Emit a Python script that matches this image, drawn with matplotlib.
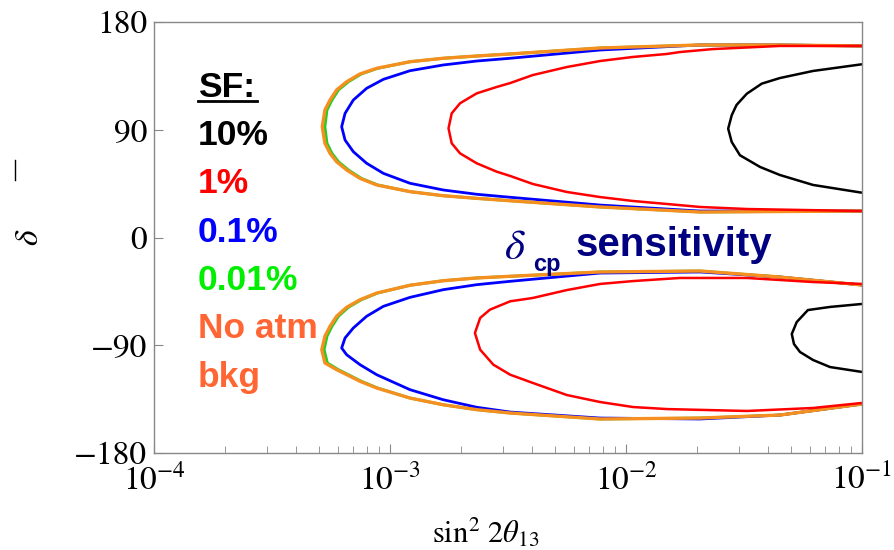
import numpy as np
import matplotlib
matplotlib.use('Agg')
import matplotlib.pyplot as plt
from matplotlib.lines import Line2D

# contours of delta_cp sensitivity, upper (delta>0) and lower (delta<0) islands
# x = sin^2(2 theta13), y = delta in degrees

# SF = 10% (black)
sf10_up_x = [0.1, 0.062, 0.0449, 0.0376, 0.0325, 0.0294, 0.02805, 0.0271, 0.02805, 0.0304,
             0.037, 0.0449, 0.062, 0.1]
sf10_up_y = [144.7, 139.1, 133.2, 128.5, 120.1, 110.7, 102.1, 90.9, 79.8, 68.7,
             58.9, 52.2, 43.9, 37.4]
sf10_lo_x = [0.1, 0.0732, 0.059, 0.0529, 0.0504, 0.0515, 0.0546, 0.062, 0.0732, 0.1]
sf10_lo_y = [-55.5, -58.0, -60.6, -70.6, -80.6, -89.0, -95.6, -102.3, -108.2, -112.3]

# SF = 1% (red)
sf1_up_x = [0.1, 0.0449, 0.0234, 0.0169, 0.0149, 0.0107, 0.00776, 0.00562, 0.00403, 0.00323,
            0.00283, 0.00233, 0.00198, 0.001826, 0.00177, 0.001826, 0.00198, 0.00233, 0.00283,
            0.00323, 0.00403, 0.00562, 0.00776, 0.0107, 0.0149, 0.0206, 0.0325, 0.1]
sf1_up_y = [160.0, 160.0, 157.4, 154.9, 153.3, 150.8, 147.4, 142.4, 135.7, 129.0,
            125.7, 120.4, 112.1, 103.7, 91.2, 78.7, 70.3, 62.0, 55.0,
            51.4, 44.7, 38.0, 33.8, 30.5, 28.0, 25.5, 23.8, 22.1]
sf1_lo_x = [0.1, 0.062, 0.0325, 0.0169, 0.0107, 0.00776, 0.00562, 0.00403, 0.00323, 0.00265,
            0.00241, 0.00229, 0.00241, 0.00274, 0.00323, 0.00403, 0.00562, 0.00776, 0.0107,
            0.0149, 0.0325, 0.062, 0.1]
sf1_lo_y = [-38.8, -37.2, -33.8, -33.8, -36.4, -38.8, -43.9, -50.5, -53.3, -60.3,
            -67.2, -79.8, -93.7, -106.2, -114.6, -121.5, -131.6, -137.4, -141.6,
            -143.3, -144.9, -142.4, -138.2]

# SF = 0.1% (blue)
sf01_up_x = [0.1, 0.0449, 0.0206, 0.00776, 0.00323, 0.00233, 0.00168, 0.001215, 0.000937, 0.000796,
             0.000699, 0.000645, 0.000624, 0.000645, 0.000699, 0.000796, 0.000937, 0.001215,
             0.00168, 0.00233, 0.00323, 0.00776, 0.0206, 0.1]
sf01_up_y = [160.0, 160.8, 160.8, 156.6, 149.7, 147.4, 144.1, 139.3, 132.1, 124.6,
             114.8, 103.7, 92.5, 81.4, 71.7, 62.0, 53.6, 45.3,
             39.7, 36.1, 33.6, 27.1, 22.1, 22.1]
sf01_lo_x = [0.1, 0.0449, 0.0206, 0.00776, 0.00323, 0.00233, 0.00168, 0.001215, 0.000937, 0.000796,
             0.000699, 0.000645, 0.000624, 0.000655, 0.000746, 0.000878, 0.001215, 0.00168,
             0.00233, 0.00323, 0.00776, 0.0206, 0.0449, 0.1]
sf01_lo_y = [-39.7, -33.0, -28.8, -29.7, -36.6, -39.4, -43.6, -50.0, -57.5, -65.8,
             -75.6, -83.9, -92.3, -97.9, -106.2, -114.6, -127.1, -135.5,
             -141.8, -145.8, -150.8, -151.6, -148.3, -139.1]

# SF = 0.01% (green)
sf001_up_x = [0.1, 0.0449, 0.0206, 0.00776, 0.00323, 0.00233, 0.00168, 0.001215, 0.000887, 0.000757,
              0.000667, 0.000605, 0.000568, 0.000541, 0.00053, 0.000541, 0.000568, 0.000605,
              0.000667, 0.000757, 0.000887, 0.001215, 0.00168, 0.00233, 0.00323, 0.00776,
              0.0206, 0.1]
sf001_up_y = [160.0, 160.8, 160.8, 158.3, 153.3, 151.6, 149.7, 146.8, 141.3, 136.6,
              130.1, 123.2, 114.8, 106.5, 92.5, 78.7, 70.3, 63.3,
              56.4, 49.4, 43.9, 38.3, 34.9, 32.7, 30.7, 25.5,
              21.3, 22.1]
sf001_lo_x = [0.1, 0.0449, 0.0206, 0.00776, 0.00323, 0.00233, 0.00168, 0.001215, 0.000887, 0.000757,
              0.000667, 0.000605, 0.000568, 0.000541, 0.000526, 0.000543, 0.000605, 0.000687,
              0.000757, 0.000887, 0.001215, 0.00168, 0.00233, 0.00323, 0.00776, 0.0206,
              0.0449, 0.1]
sf001_lo_y = [-39.7, -33.0, -28.0, -28.8, -32.4, -33.8, -36.1, -39.9, -46.4, -52.0,
              -58.3, -65.8, -74.2, -82.5, -93.7, -104.8, -110.4, -115.9,
              -120.1, -125.7, -134.1, -139.7, -143.8, -146.6, -151.6, -150.8,
              -148.3, -139.1]

# no atmospheric background (orange)
noatm_up_x = [0.1, 0.0449, 0.0206, 0.00776, 0.00323, 0.00233, 0.00168, 0.001215, 0.000878, 0.000746,
              0.000655, 0.000594, 0.000557, 0.00053, 0.0005165, 0.00053, 0.000557, 0.000594,
              0.000655, 0.000746, 0.000878, 0.001215, 0.00168, 0.00233, 0.00323, 0.00776,
              0.0206, 0.1]
noatm_up_y = [160.0, 160.8, 160.8, 158.3, 153.3, 151.6, 149.7, 146.8, 141.3, 136.6,
              130.1, 123.2, 114.8, 106.5, 92.5, 78.7, 70.3, 63.3,
              56.4, 49.4, 43.9, 38.3, 34.9, 32.7, 30.7, 25.5,
              21.3, 22.1]
noatm_lo_x = [0.1, 0.0449, 0.0206, 0.00776, 0.00323, 0.00233, 0.00168, 0.001215, 0.000878, 0.000746,
              0.000655, 0.000594, 0.000557, 0.00053, 0.000514, 0.00053, 0.000594, 0.000677,
              0.000746, 0.000878, 0.001215, 0.00168, 0.00233, 0.00323, 0.00776, 0.0206,
              0.0449, 0.1]
noatm_lo_y = [-39.7, -33.0, -28.0, -28.8, -32.4, -33.8, -36.1, -39.9, -46.4, -52.0,
              -58.3, -65.8, -74.2, -82.5, -93.7, -104.8, -110.4, -115.9,
              -120.1, -125.7, -134.1, -139.7, -143.8, -146.6, -151.6, -150.8,
              -148.3, -139.1]

legend_labels = ['10%', '1%', '0.1%', '0.01%', 'No atm', 'bkg']
legend_colors = ['black', '#ff0000', '#0000ff', '#00ee00', '#ff6633', '#ff6633']
y_ticks = [-180, -90, 0, 90, 180]

plt.rcParams['mathtext.fontset'] = 'stix'
plt.rcParams['font.family'] = 'STIXGeneral'

W, H = 895, 550
fig = plt.figure(figsize=(W/100, H/100), dpi=100)
ax = fig.add_axes([154/W, 97/H, 708/W, 431/H])

def curve(x, y, c, lw):
    ax.plot(x, y, color=c, lw=lw, solid_joinstyle='round', solid_capstyle='butt', clip_on=False)

curve(sf001_up_x, sf001_up_y, '#22cc22', 2.0)
curve(sf001_lo_x, sf001_lo_y, '#22cc22', 2.0)
curve(sf01_up_x, sf01_up_y, '#0000ff', 2.0)
curve(sf01_lo_x, sf01_lo_y, '#0000ff', 2.0)
curve(noatm_up_x, noatm_up_y, '#f59020', 2.4)
curve(noatm_lo_x, noatm_lo_y, '#f59020', 2.4)
curve(sf1_up_x, sf1_up_y, '#ff0000', 1.8)
curve(sf1_lo_x, sf1_lo_y, '#ff0000', 1.8)
curve(sf10_up_x, sf10_up_y, 'black', 1.8)
curve(sf10_lo_x, sf10_lo_y, 'black', 1.8)

ax.set_xscale('log')
ax.set_xlim(1e-4, 1e-1)
ax.set_ylim(-180, 180)
ax.set_yticks(y_ticks)
ax.yaxis.set_minor_locator(matplotlib.ticker.NullLocator())

for s in ax.spines.values():
    s.set_color('#888888')
    s.set_linewidth(1.0)

ax.tick_params(axis='both', which='both', direction='in', color='#888888',
               top=False, right=False, labelsize=24)
ax.tick_params(axis='y', which='major', length=6.5, pad=5)
ax.tick_params(axis='x', which='major', length=6.5, pad=8)
ax.tick_params(axis='x', which='minor', length=5)

# axis labels
fig.text(486/W, 1 - 533/H, r'$\mathrm{sin}^2\ 2\theta_{13}$', fontsize=22,
         ha='center', va='center')
fig.text(30/W, 1 - 237/H, r'$\delta$', fontsize=24, rotation=90, ha='center', va='center')
fig.add_artist(Line2D([15/W, 15/W], [1 - 160/H, 1 - 180/H], color='black', lw=1.0))

# SF legend
sans = 'Liberation Sans'
fig.text(198/W, 1 - 97/H, 'SF:', fontsize=25.5, fontweight='bold', family=sans,
         ha='left', va='baseline')
fig.add_artist(Line2D([198/W, 257/W], [1 - 101/H, 1 - 101/H], color='black', lw=2.0))
baselines = [145, 193, 242, 290, 338, 387]
for lab, col, yb in zip(legend_labels, legend_colors, baselines):
    fig.text(198/W, 1 - yb/H, lab, fontsize=25.5, fontweight='bold', family=sans,
             color=col, ha='left', va='baseline')

# delta_cp sensitivity
navy = '#000080'
fig.text(504/W, 1 - 259/H, r'$\delta$', fontsize=31, color=navy, ha='left', va='baseline')
fig.text(533/W, 1 - 271/H, 'cp', fontsize=17, fontweight='bold', family=sans,
         color=navy, ha='left', va='baseline')
fig.text(576/W, 1 - 256/H, 'sensitivity', fontsize=29, fontweight='bold', family=sans,
         color=navy, ha='left', va='baseline')

fig.savefig('out.png', dpi=100)
